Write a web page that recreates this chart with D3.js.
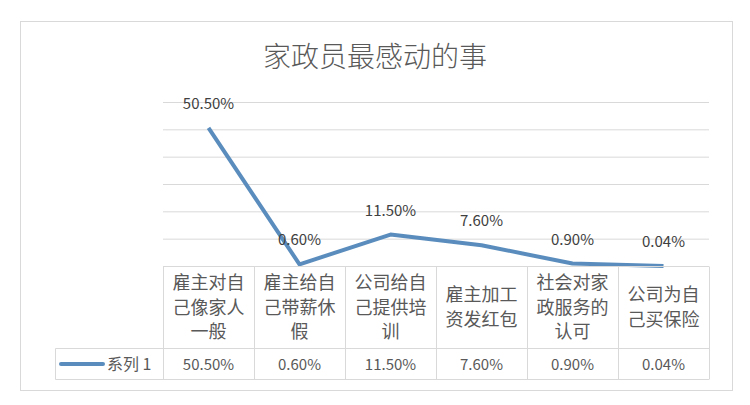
<!DOCTYPE html>
<html>
<head>
<meta charset="utf-8">
<script src="https://cdn.jsdelivr.net/npm/d3@7"></script>
<style>
  html, body { margin: 0; padding: 0; background: #fff; }
  svg { display: block; font-family: "Noto Sans CJK SC", "Noto Sans", sans-serif; }
</style>
</head>
<body>
<svg id="chart" width="750" height="405"></svg>
<script>
// chart data
const title = "家政员最感动的事";
const seriesName = "系列 1";
const categories = [
    "雇主对自己像家人一般",
    "雇主给自己带薪休假",
    "公司给自己提供培训",
    "雇主加工资发红包",
    "社会对家政服务的认可",
    "公司为自己买保险"
];
const values = [0.505, 0.006, 0.115, 0.076, 0.009, 0.0004];
const valueLabels = ["50.50%", "0.60%", "11.50%", "7.60%", "0.90%", "0.04%"];
const yTicks = [0, 0.1, 0.2, 0.3, 0.4, 0.5, 0.6];

const svg = d3.select("#chart");
const lineColor = "#5a8dbd";
const gridColor = "#d9d9d9";
const textColor = "#595959";

// outer chart frame
svg.append("rect")
    .attr("x", 20.5).attr("y", 21.5)
    .attr("width", 712).attr("height", 369)
    .attr("fill", "#fff")
    .attr("stroke", "#d9d9d9");

svg.append("text")
    .attr("x", 375).attr("y", 67)
    .attr("text-anchor", "middle")
    .attr("font-size", 28)
    .attr("font-weight", 300)
    .attr("fill", textColor)
    .text(title);

const x = d3.scaleBand().domain(categories).range([163, 709]);
const y = d3.scaleLinear().domain([0, 0.6]).range([266, 102]);

// gridlines
svg.append("g")
    .attr("transform", "translate(163,0)")
    .call(d3.axisLeft(y).tickValues(yTicks).tickSize(-(709 - 163)).tickFormat(""))
    .call(g => g.select(".domain").remove())
    .call(g => g.selectAll(".tick line").attr("stroke", gridColor));

// series line
const line = d3.line()
    .x((d, i) => x(categories[i]) + x.bandwidth() / 2)
    .y(d => y(d));

svg.append("path")
    .datum(values)
    .attr("d", line)
    .attr("fill", "none")
    .attr("stroke", lineColor)
    .attr("stroke-width", 4)
    .attr("stroke-linejoin", "round");

svg.append("g")
    .selectAll("text")
    .data(values)
    .join("text")
    .attr("x", (d, i) => x(categories[i]) + x.bandwidth() / 2)
    .attr("y", d => y(d) - 19)
    .attr("text-anchor", "middle")
    .attr("font-size", 15)
    .attr("fill", "#404040")
    .text((d, i) => valueLabels[i]);

// data table under the axis
const tableTop = 266.5, headBottom = 348.5, tableBottom = 379.5, legendLeft = 55.5;
const table = svg.append("g").attr("stroke", gridColor).attr("fill", "none");

table.append("line").attr("x1", 163).attr("x2", 709).attr("y1", tableTop).attr("y2", tableTop);
table.append("line").attr("x1", legendLeft).attr("x2", 709).attr("y1", headBottom).attr("y2", headBottom);
table.append("line").attr("x1", legendLeft).attr("x2", 709).attr("y1", tableBottom).attr("y2", tableBottom);
table.append("line").attr("x1", legendLeft).attr("x2", legendLeft).attr("y1", headBottom).attr("y2", tableBottom);

table.selectAll(".col")
    .data(categories.concat([null]))
    .join("line")
    .attr("x1", (d, i) => Math.round(163 + i * x.bandwidth()) + 0.5)
    .attr("x2", (d, i) => Math.round(163 + i * x.bandwidth()) + 0.5)
    .attr("y1", tableTop).attr("y2", tableBottom);

// category names wrapped four characters per line
const lineHeight = 24.5;
svg.append("g")
    .selectAll("text")
    .data(categories)
    .join("text")
    .attr("text-anchor", "middle")
    .attr("font-size", 18)
    .attr("fill", textColor)
    .each(function (d) {
        const parts = d.match(/.{1,4}/g);
        const cx = x(d) + x.bandwidth() / 2;
        const top = (tableTop + headBottom) / 2 - (parts.length - 1) * lineHeight / 2 + 6;
        d3.select(this).selectAll("tspan")
            .data(parts)
            .join("tspan")
            .attr("x", cx)
            .attr("y", (p, j) => top + j * lineHeight)
            .text(p => p);
    });

const rowMid = (headBottom + tableBottom) / 2;
svg.append("g")
    .selectAll("text")
    .data(valueLabels)
    .join("text")
    .attr("x", (d, i) => x(categories[i]) + x.bandwidth() / 2)
    .attr("y", rowMid + 5.5)
    .attr("text-anchor", "middle")
    .attr("font-size", 15)
    .attr("fill", textColor)
    .text(d => d);

// legend key in the table
svg.append("line")
    .attr("x1", 61).attr("x2", 103)
    .attr("y1", rowMid).attr("y2", rowMid)
    .attr("stroke", lineColor)
    .attr("stroke-width", 4)
    .attr("stroke-linecap", "round");

svg.append("text")
    .attr("x", 107).attr("y", rowMid + 6)
    .attr("font-size", 16)
    .attr("fill", textColor)
    .text(seriesName);
</script>
</body>
</html>
